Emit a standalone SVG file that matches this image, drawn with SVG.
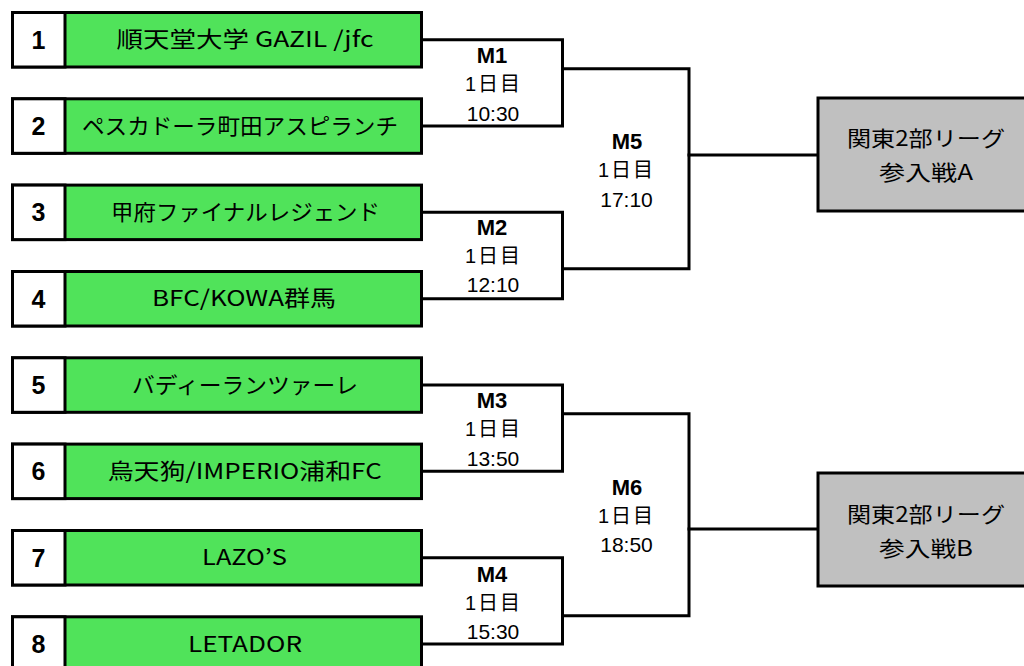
<svg xmlns="http://www.w3.org/2000/svg" width="1024" height="666" viewBox="0 0 1024 666">
<style>
.box{fill:#50E35A;stroke:#000;stroke-width:3}
.num{fill:#fff;stroke:#000;stroke-width:3}
.res{fill:#C0C0C0;stroke:#000;stroke-width:3}
.ln{fill:none;stroke:#000;stroke-width:3;stroke-linecap:square}
.nm{font-family:"Noto Sans CJK JP","Liberation Sans",sans-serif;font-size:22px;fill:#000;text-anchor:middle}
.no{font-family:"Liberation Sans",Arial,sans-serif;font-size:25px;font-weight:bold;fill:#000;text-anchor:middle}
.ml{font-family:"Liberation Sans","Noto Sans CJK JP",sans-serif;font-size:22px;font-weight:bold;fill:#000;text-anchor:middle}
.md{font-family:"Liberation Sans","Noto Sans CJK JP",sans-serif;font-size:20px;fill:#000;text-anchor:middle}
.mt{font-family:"Liberation Sans",sans-serif;font-size:21px;fill:#000;text-anchor:middle}
.rs{font-family:"Noto Sans CJK JP","Liberation Sans",sans-serif;font-size:21px;fill:#000;text-anchor:middle}
</style>
<rect width="1024" height="666" fill="#fff"/>
<g id="connectors">
<polyline class="ln" points="423,39.75 562.5,39.75 562.5,126 423,126"/>
<polyline class="ln" points="423,212.3 562.5,212.3 562.5,298.7 423,298.7"/>
<polyline class="ln" points="423,385 562.5,385 562.5,471.3 423,471.3"/>
<polyline class="ln" points="423,557.7 562.5,557.7 562.5,644 423,644"/>
<polyline class="ln" points="562.5,68.7 689,68.7 689,268.7 562.5,268.7"/>
<polyline class="ln" points="562.5,413.7 689,413.7 689,615.7 562.5,615.7"/>
<line class="ln" x1="689" y1="155" x2="817" y2="155"/>
<line class="ln" x1="689" y1="529" x2="817" y2="529"/>
</g>
<g id="team1"><rect class="box" x="12.5" y="12.5" width="409" height="54.5"/><rect class="num" x="12.5" y="12.5" width="52.5" height="54.5"/><text class="no" x="38.5" y="48.7">1</text><text class="nm" x="245" y="47.3" textLength="257" lengthAdjust="spacingAndGlyphs">順天堂大学 GAZIL /jfc</text></g>
<g id="team2"><rect class="box" x="12.5" y="98.8" width="409" height="54.5"/><rect class="num" x="12.5" y="98.8" width="52.5" height="54.5"/><text class="no" x="38.5" y="135">2</text><text class="nm" x="240" y="133.5" textLength="316" lengthAdjust="spacingAndGlyphs">ペスカドーラ町田アスピランチ</text></g>
<g id="team3"><rect class="box" x="12.5" y="185.1" width="409" height="54.5"/><rect class="num" x="12.5" y="185.1" width="52.5" height="54.5"/><text class="no" x="38.5" y="221.3">3</text><text class="nm" x="245.5" y="219.8" textLength="269" lengthAdjust="spacingAndGlyphs">甲府ファイナルレジェンド</text></g>
<g id="team4"><rect class="box" x="12.5" y="271.5" width="409" height="54.5"/><rect class="num" x="12.5" y="271.5" width="52.5" height="54.5"/><text class="no" x="38.5" y="307.7">4</text><text class="nm" x="244" y="306.2" textLength="184" lengthAdjust="spacingAndGlyphs">BFC/KOWA群馬</text></g>
<g id="team5"><rect class="box" x="12.5" y="357.8" width="409" height="54.5"/><rect class="num" x="12.5" y="357.8" width="52.5" height="54.5"/><text class="no" x="38.5" y="394">5</text><text class="nm" x="245" y="392.5" textLength="226" lengthAdjust="spacingAndGlyphs">バディーランツァーレ</text></g>
<g id="team6"><rect class="box" x="12.5" y="444.1" width="409" height="54.5"/><rect class="num" x="12.5" y="444.1" width="52.5" height="54.5"/><text class="no" x="38.5" y="480.3">6</text><text class="nm" x="244.7" y="478.8" textLength="274" lengthAdjust="spacingAndGlyphs">烏天狗/IMPERIO浦和FC</text></g>
<g id="team7"><rect class="box" x="12.5" y="530.5" width="409" height="54.5"/><rect class="num" x="12.5" y="530.5" width="52.5" height="54.5"/><text class="no" x="38.5" y="566.7">7</text><text class="nm" x="244.5" y="565.2" textLength="85" lengthAdjust="spacingAndGlyphs">LAZO’S</text></g>
<g id="team8"><rect class="box" x="12.5" y="616.8" width="409" height="54.5"/><rect class="num" x="12.5" y="616.8" width="52.5" height="54.5"/><text class="no" x="38.5" y="653">8</text><text class="nm" x="245" y="651.5" textLength="114" lengthAdjust="spacingAndGlyphs">LETADOR</text></g>
<g id="m1"><text class="ml" x="492" y="63.3">M1</text><text class="md" x="492.5" y="91.3" textLength="55" lengthAdjust="spacing">1日目</text><text class="mt" x="493" y="120.7">10:30</text></g>
<g id="m2"><text class="ml" x="492" y="235">M2</text><text class="md" x="492.5" y="263" textLength="55" lengthAdjust="spacing">1日目</text><text class="mt" x="493" y="292.4">12:10</text></g>
<g id="m3"><text class="ml" x="492" y="408.3">M3</text><text class="md" x="492.5" y="436.3" textLength="55" lengthAdjust="spacing">1日目</text><text class="mt" x="493" y="465.7">13:50</text></g>
<g id="m4"><text class="ml" x="492" y="581.7">M4</text><text class="md" x="492.5" y="609.7" textLength="55" lengthAdjust="spacing">1日目</text><text class="mt" x="493" y="639">15:30</text></g>
<g id="m5"><text class="ml" x="627" y="149.3">M5</text><text class="md" x="625.5" y="177.3" textLength="55" lengthAdjust="spacing">1日目</text><text class="mt" x="626.5" y="206.5">17:10</text></g>
<g id="m6"><text class="ml" x="627" y="495">M6</text><text class="md" x="625.5" y="523" textLength="55" lengthAdjust="spacing">1日目</text><text class="mt" x="626.5" y="552.3">18:50</text></g>
<g id="resultA"><rect class="res" x="818" y="98" width="220" height="113"/><text class="rs" x="926" y="146" textLength="158" lengthAdjust="spacingAndGlyphs">関東2部リーグ</text><text class="rs" x="926" y="180" textLength="94" lengthAdjust="spacingAndGlyphs">参入戦A</text></g>
<g id="resultB"><rect class="res" x="818" y="473" width="220" height="113"/><text class="rs" x="926" y="522" textLength="158" lengthAdjust="spacingAndGlyphs">関東2部リーグ</text><text class="rs" x="926" y="556" textLength="94" lengthAdjust="spacingAndGlyphs">参入戦B</text></g>
</svg>
